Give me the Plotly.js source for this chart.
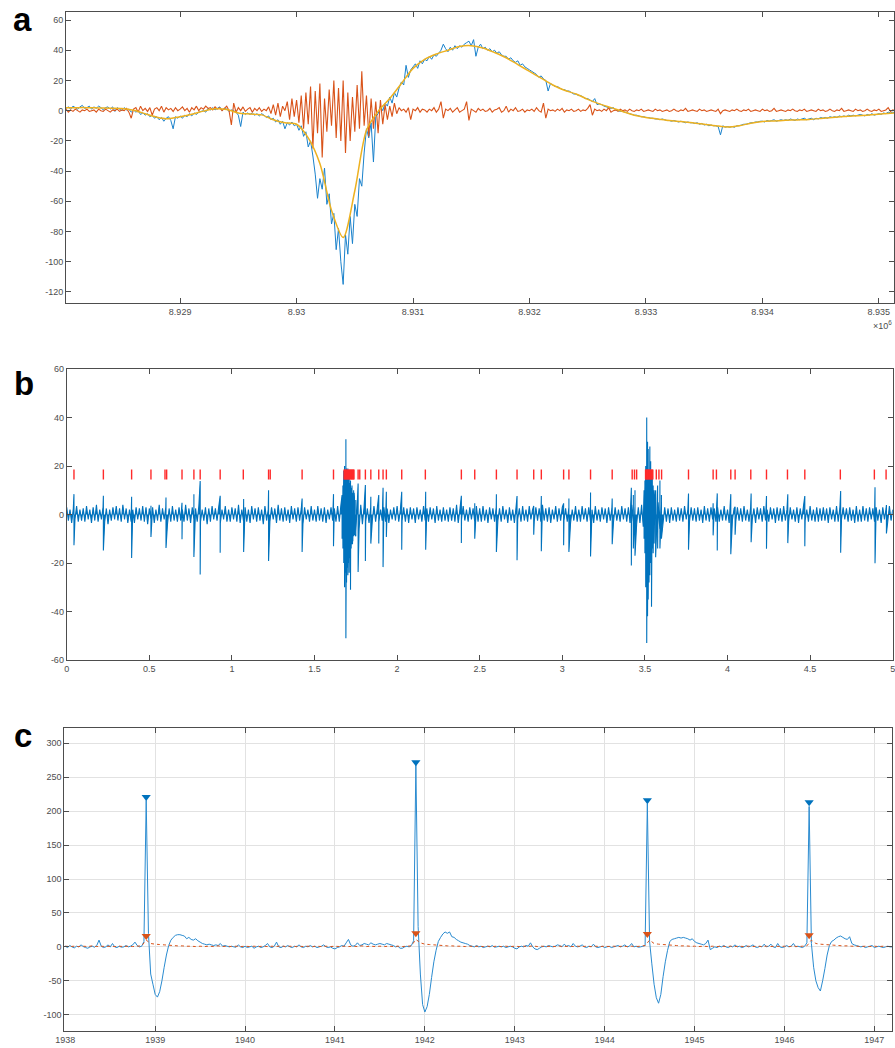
<!DOCTYPE html>
<html><head><meta charset="utf-8">
<script src="https://cdn.plot.ly/plotly-3.0.1.min.js"></script>
<style>html,body{margin:0;padding:0;background:#fff}#chart{width:895px;height:1048px}</style>
</head><body><div id="chart"></div>
<script>
// ---------- Panel a (x in units of 1e6) ----------
const aX0 = 8.928, aDx = 0.00002, aYDx = 0.0001;
const aBlue = [
3,1.5,2.5,1,3,2,1,2.5,3.5,1.5,
2,3,1,2.5,1.5,3,2,0.5,2,2.5,
1,2.5,-0.5,2,1,0,2,0.5,1,-1,
0.5,-1,0,-2.5,-1.5,-3,-2,-4,-3,-5,
-4,-6,-4.5,-7,-5,-4,-6.5,-12,-4,-5,
-3.5,-5,-3,-4,-2,-3.5,-1.5,-2.5,-1,-0.5,
0,-1,1.5,0.5,2,0.5,1.5,2.5,0,1.5,
1,-0.5,0.5,0,-1,-3,-10.5,-1,-2.5,-1.5,
-2.5,-1.5,-3,-2,-3.5,-2,-3,-4.5,-3.5,-6,
-5,-7.5,-6,-9,-7,-12,-8,-9.5,-7.5,-10,
-9,-13,-10,-17,-14,-24,-20,-30,-42,-58,
-45,-52,-38,-62,-55,-75,-68,-92,-78,-100,
-115,-82,-95,-70,-88,-62,-70,-45,-50,-28,
-12,-18,-8,-34,-4,-2,3,0,5,3,
9,5,12,9,15,19,17,30,22,27,
29,31,28,33,31,34,33,36,34,37,
36,38,40,44,41,39,42,40,43,41,
43,42,44,45,46,43,47,36,42,44,
41,42,40,41,39,40,38,39,37,36,
36,34,35,33,32,33,30,31,29,28,
27,26,25,24,22,23,21,20,13,18,
17,16,16,15,14,14,13,13,12,11,
11,10,10,9,8,8,7,6,8,4,
4.5,4,3,2.5,2,1.5,2,0.5,0,-0.5,
-0.5,-1,-1.5,-2,-2.5,-3,-3,-3.5,-4,-4,
-4.5,-4.5,-5,-5,-5.5,-5.5,-6,-5.5,-6,-6.5,
-6.5,-7,-6.5,-7,-7.5,-7,-7.5,-8,-7.5,-8,
-8,-8.5,-8,-9,-8.5,-9.5,-9,-10,-9.5,-10,
-10,-10.5,-16,-10,-11,-10.5,-11,-10.5,-11,-10,
-10,-9.5,-9,-9,-8.5,-8,-8,-7.5,-7.5,-7,
-7,-7.5,-6.5,-7,-6.5,-6,-7,-6.5,-6,-6.5,
-6,-6.5,-5.5,-6,-6.5,-5.5,-6,-5.5,-5,-6,
-5.5,-5,-6,-5,-5.5,-4.5,-5,-4.5,-5,-4,
-4.5,-4,-4.5,-3.5,-4,-3.5,-4,-3,-3.5,-3,
-3.5,-3,-2.5,-3,-3.5,-2.5,-3,-2,-3,-2.5,
-2,-2.5,-1.5,-2,-1,-1.5,-1,-1.5];
const aOrange = [
0,1,-1,0.5,-0.5,1,0,-1,0.5,0,
1,-0.5,0,0.5,-1,1,0,-0.5,1,0,
-1,0.5,0,1,-0.5,0.5,0,1.5,-1,-5,
1,2,-1,3,0,1.5,-0.5,2,-3,1,
2,0,3,-1,2,0.5,1.5,-0.5,2,0,
1,2.5,0,1.5,-1,2,0.5,3,0,2,
1,3,1.5,2,0.5,2.5,1,2,0,1.5,
3,0,-9.5,5,-1,2,0,2.5,-0.5,1,
2,-1,1.5,0,2,-0.5,1,0,2.5,-2,
4,-3,5,-4,3,0,6,-6,8,-4,
7,-8,10,-12,12,-9,16,-25,13,-15,
18,-31,8,-14,14,-10,20,-18,15,-20,
20,-28,12,-20,9,-14,17,-12,26,-10,
10,-17,8,-12,6,-15,7,-9,4,-6,
3,-4,5,-2,2,0,1,-1,2,-6,
1,0,2,-1,1,0.5,-1,1,0,2,
-1,1,6,-5,1,0,1.5,-1,0.5,2,
-1,0,1,6,-6.5,1,0,-1,1.5,0,
1,-0.5,0,1.5,-1,0.5,1,2,-1,0,
3,-1,1,0,2,-0.5,0,1,-1,0.5,
0,1,-0.5,2,0,-1,5,-5,1,0,
0.5,-0.5,1,0,1.5,-1,0.5,0,1,-0.5,
0,1,-0.5,0.5,0,1.5,4,-3,1,0,
0.5,-0.5,1,0,2,-1,0,0.5,-0.5,1,
0,0.5,-0.5,1,0,-0.5,0.5,0,1,-0.5,
0,0.5,0,-0.5,1,0,0.5,-0.5,0,0.5,
-0.5,0,1,0,-0.5,0.5,0,1.5,-0.5,0,
0.5,0,-0.5,1,0,0.5,-0.5,0,0.5,0,
-0.5,1,-2,0,0.5,0,-0.5,0.5,0,1,
0,-0.5,0.5,0,1,-0.5,0,0.5,0,-0.5,
1,0,0.5,-0.5,0,1.5,-0.5,0,0.5,0,
-0.5,0.5,0,1,0,-0.5,0.5,0,1,-0.5,
0,0.5,0,-0.5,1,0,0.5,-0.5,0,1,
0,-0.5,0.5,0,1.5,-0.5,0,0.5,0,-0.5,
1,0,0.5,-0.5,0,1,0,-0.5,0.5,0,
1,-0.5,0,0.5,2,-0.5,0.5,0];
const aYellow = [
2,2,2,1.8,1.6,1.4,0.3,-2,-4.3,-5.3,
-4,-2.4,-0.3,1.2,0.8,-1.5,-2.2,-2.8,-6,-8,
-9,-18,-35,-66,-84,-53,-13,-0.5,8,18,
28,34,37.5,40,42.5,43,41.5,38.5,35,30.5,
26,21.5,17,13.5,11,7.5,4.5,2,-0.5,-3,
-4.5,-5.5,-6.5,-7.2,-8,-9,-10,-10.8,-10,-8.3,
-7.2,-6.8,-6.4,-6.1,-5.8,-5.2,-4.5,-3.9,-3.3,-3,
-2.4,-1.7,-1.4];
const aXTicks = [8.929,8.930,8.931,8.932,8.933,8.934,8.935];
const aXLabels = ['8.929','8.93','8.931','8.932','8.933','8.934','8.935'];
const aYTicks = [-120,-100,-80,-60,-40,-20,0,20,40,60];

// ---------- Panel b ----------
const bDx = 0.01;
const bNoise = [
3,-2.5,2,-3.5,2.5,-2,3.5,-3,2,-2.5,
2.5,-3,3.5,-2,2,-3.5,3,-2.5,4,-3,
2,-2,3,-3,2.5,-4,2,-2.5,3,-2,
3.5,-2.5,2.5,-3,4,-2,2.5,-3.5,2,-3,
2,-3.5,3,-2,2.5,-2.5,3.5,-3,3,-4,
2.5,-2,3,-3.5,2,-2.5,4,-3,2.5,-2,
3,-4,2.5,-3,3.5,-2.5,2,-3,3,-2.5,
2,-3,4,-2.5,2.5,-3.5,3,-2,2.5,-3,
3.5,-3,2,-2.5,3,-4,2.5,-3,3.5,-2,
2.5,-2.5,3,-3.5,2,-2,3.5,-3,2,-3,
3,-2,2.5,-3,4,-3.5,2,-2.5,3,-3,
2,-3.5,3.5,-2,2.5,-3,3,-2.5,2,-4,
3.5,-2.5,2,-3,3,-2,2.5,-3.5,4,-2.5,
2.5,-3,3,-2.5,2,-3.5,3.5,-2,2.5,-3,
3,-2.5,2.5,-4,3,-2,2,-3,3.5,-2.5,
2,-3,3.5,-2.5,2.5,-3,3,-3.5,2,-2,
3,-2.5,2.5,-3,3.5,-3,4,-5,8,-10,
12,-14,10,-12,9,-9,6,-6,4,-4,
3,-3,2.5,-3.5,3,-2.5,3.5,-3,2.5,-3,
2,-2.5,3,-3,2.5,-3.5,2,-2,3,-2.5,
3.5,-3,2,-2.5,3,-3,2.5,-3.5,3,-2,
2.5,-3.5,3,-2,2,-3,3.5,-2.5,2.5,-3,
3,-2,2.5,-3.5,3.5,-2.5,2,-3,3,-2.5,
2,-3,3,-2.5,2.5,-3,4,-3.5,2,-2,
3.5,-2.5,2,-3,3,-2,2.5,-3,3.5,-3,
2.5,-3,3.5,-2.5,2,-3.5,3,-2,2.5,-3,
3,-2.5,2.5,-3,3.5,-2,2,-3.5,3,-2.5,
2,-3.5,3,-2,2.5,-3,3.5,-2.5,2,-3,
3.5,-2,2,-3,3,-2.5,2.5,-3,4,-2.5,
2.5,-3,3,-3.5,2,-2,3.5,-3,2.5,-2.5,
3,-2.5,2.5,-3,3,-3.5,2,-2.5,3.5,-3,
2,-3,3.5,-2,2.5,-3,3,-2.5,2,-3.5,
3.5,-2.5,2,-3,3,-2,2.5,-3.5,3,-2.5,
2.5,-3,3,-2.5,2,-3,3.5,-2,2.5,-3,
3,-3.5,4,-3,3.5,-4,3,-3.5,4,-5,
12,-16,10,-14,8,-11,6,-8,5,-6,
4,-3.5,3,-3,2.5,-3.5,3,-2.5,2,-3,
3,-2.5,2.5,-3,3.5,-2,2,-3,3,-2.5,
2.5,-3,3,-2.5,2,-3.5,3.5,-2.5,2.5,-3,
3,-2,2.5,-3,3,-3,2,-2.5,3.5,-2.5,
2,-3.5,3,-2,2.5,-3,3,-2.5,2.5,-3,
3.5,-2.5,2,-3,3,-2,2.5,-3.5,3,-2,
2.5,-3,3.5,-2.5,2,-3,3,-2,2.5,-3.5,
3,-2.5,2.5,-3,3.5,-2.5,2,-3,3,-2,
2,-3,3,-3.5,2.5,-2,3.5,-2.5,2,-3,
3.5,-2.5,2,-3,3,-3,2.5,-2.5,3,-2.5,
2.5,-3.5,3,-2,2,-3,3.5,-3,2.5,-2,
3,-2,2.5,-3,3,-2.5,2,-3.5,3.5,-3,
2,-3,3.5,-2.5,2.5,-3,3,-2,2.5,-3,
3,-2.5,2,-3.5,3,-2,2.5,-3,3.5,-2.5,
2];
const bSpikeT = [0.044,0.222,0.393,0.510,0.601,0.698,0.770,0.808,0.929,1.071,1.222,1.425,1.615,
1.667,1.672,1.677,1.682,1.687,1.690,1.694,1.698,1.702,1.706,1.710,1.714,1.718,1.722,1.727,1.732,1.737,1.742,1.750,
1.764,1.808,1.841,1.889,1.915,1.935,2.028,2.173,2.389,2.470,2.601,2.726,2.827,2.873,3.008,3.040,3.171,3.302,
3.418,3.430,3.440,3.495,3.500,3.505,3.511,3.516,3.520,3.525,3.530,3.535,3.540,3.545,3.550,3.556,3.565,3.577,3.591,3.600,
3.764,3.913,3.938,4.020,4.046,4.143,4.236,4.365,4.468,4.685,4.893,4.962];
const bSpikeHi = [8.4,7.7,7.3,3.6,7,4.8,8.4,13.8,7.7,6.4,10,6.6,8.4,
8,12,18,20,16,31,19,17,19,15,17,13,14,11,12,9,10,7,6,
12.8,12.2,7.3,8,11,9.4,9.4,9.4,7.7,4.6,8.3,7.6,3.5,7.6,4.6,6.6,9.1,6.6,
11,8,10,10,14,20,40,30,27,18,28,22,15,16,12,10,10,12,14,8,
8.7,4.6,8.7,8.4,3.2,8.7,7.6,8.3,7.6,9.7,11.2,3.9];
const bSpikeLo = [-12.7,-14.8,-17.9,-9.3,-13.8,-10.2,-17.5,-24.7,-15.8,-15.5,-19.2,-15.5,-13.1,
-10,-14,-20,-30,-24,-51,-28,-22,-25,-20,-24,-18,-31,-14,-12,-11,-9,-8,-7,
-23.7,-19.2,-12,-12,-21.7,-9.3,-14.5,-14.5,-11.8,-10,-15.5,-18.9,-8.3,-15.2,-12.7,-15.5,-17.3,-12.3,
-21,-14,-17,-10,-16,-30,-53,-42,-35,-28,-25,-20,-38,-14,-16,-12,-17.6,-14,-14,-10,
-14.5,-8.6,-14.8,-16.4,-8.3,-11.4,-14.1,-11.8,-13.1,-15.8,-20.1,-7.8];
const bMarkT = [0.044,0.222,0.393,0.510,0.595,0.605,0.698,0.770,0.808,0.929,1.069,1.222,1.232,1.425,1.615,
1.679,1.683,1.687,1.691,1.695,1.699,1.703,1.707,1.711,1.715,1.719,1.723,1.727,1.731,1.735,1.739,
1.764,1.774,1.808,1.841,1.889,1.915,1.935,2.028,2.171,
2.389,2.470,2.601,2.726,2.827,2.873,3.008,3.040,3.171,3.302,3.423,3.437,3.450,
3.504,3.508,3.512,3.516,3.520,3.524,3.528,3.532,3.536,3.540,3.544,3.548,
3.569,3.585,3.601,3.764,3.913,3.933,4.020,4.046,4.141,4.236,4.363,4.468,4.683,4.889,4.960];
const bMarkLevel = 16.5;
const bXTicks = [0,0.5,1,1.5,2,2.5,3,3.5,4,4.5,5];
const bYTicks = [-60,-40,-20,0,20,40,60];

// ---------- Panel c ----------
const cX0 = 1938, cDx = 0.025, cDxO = 0.05;
const cBlue = [
1,-1,2,0,-1.5,1,0,3,0.5,-1,
-2,0,1,-0.5,2,10,1,-1,0,3,
0,5,0,-1,1,-0.5,0,2,0,1,
3,7,2,0,1,8,216,20,-40,-55,
-70,-74,-66,-50,-30,-12,2,10,14,17,
18,18,17,16,12,14,11,10,12,9,
7,5,4,3,4,3,2,3,2,5,
1,2,1,0,1,0,-0.5,3,0,-1,
1,-1,0,1,-2,0,1,-1,0,2,
5,0,-1,1,7,0,-1,1,0,2,
0,-1,1,0,3,0,-1,1,0,2,
0,1,-1,0,1,3,0,-1,0,-2,
-3,-1,0,2,1,6,11,3,1,2,
6,2,3,5,4,3,6,4,3,4,
5,4,3,5,4,3,2,0,1,-2,
-2,0,1,0,2,9,268,30,-40,-85,
-96,-88,-70,-45,-22,-5,8,14,19,22,
20,22,15,14,11,9,7,6,5,4,
2,1,0,2,0,1,-1,0,1,0,
2,-0.5,0,1,0,1,-1,0,1,0,
-2,-3,0,1,0,2,1,6,0,-3,
-4,-2,0,1,0,2,1,0,1,3,
2,0,4,1,2,0,5,1,0,1,
3,0,-1,1,0,4,0,-1,0,1,
-1,0,1,-1,0,1,2,0,1,3,
0,1,5,0,1,-0.5,0,1,2,211,
8,-25,-55,-75,-83,-70,-44,-22,-5,8,
11,12,13,14,13,14,13,12,10,12,
8,6,5,4,3,5,10,-4,-2,0,
-1,1,0,2,0,-1,1,0,3,0,
1,-1,0,2,0,1,3,0,-1,1,
0,4,0,1,4,0,-1,5,0,-1,
0,2,0,1,5,0,1,0,-1,1,
6,207,5,-30,-50,-60,-65,-50,-32,-12,
2,8,10,13,15,16,14,12,11,15,
5,3,2,1,0,1,-1,0,1,2,
-1,0,1,0,-1,0,1,0,0];
const cOrange = [
1,0.5,1,0.5,1,0.5,1.5,0.5,1,0.5,
1,0.5,1,0.5,1,0.5,1,1.5,10,5,
4,3.5,3,2.5,2,1.5,1.5,1,1,0.5,
1,0.5,1,0.5,1.5,0.5,1,0.5,1,0.5,
1,0.5,1,0.5,1,0.5,1,0.5,1.5,0.5,
1,0.5,1,0.5,1,0.5,1,0.5,1,0.5,
1,0.5,1,0.5,1,0.5,1.5,0.5,1,0.5,
1,0.5,1,0.5,1,0.5,1,1.5,11,6,
4,3.5,3,2.5,2,1.5,1.5,1,1,0.5,
1,0.5,1,0.5,1,0.5,1,0.5,1,0.5,
1,0.5,1,0.5,1.5,0.5,1,0.5,1,0.5,
1,0.5,1,0.5,1,0.5,1,0.5,1,0.5,
1,0.5,1,0.5,1,0.5,1,0.5,1,2,
10,5,4,3.5,3,2.5,2,1.5,1.5,1,
1,0.5,1,0.5,1,0.5,1,0.5,1,0.5,
1,0.5,1,0.5,1,0.5,1,0.5,1,0.5,
1,0.5,1,0.5,1,1.5,10,5,4,3.5,
3,2.5,2,1.5,1.5,1,1,0.5,1,0.5,
1,0.5,1,0.5,1];
const cPeakT = [1938.9, 1941.9, 1944.475, 1946.275];
const cPeakBlue = [221, 272, 216, 213];
const cPeakOrange = [16, 20, 19, 17];
const cXTicks = [1938,1939,1940,1941,1942,1943,1944,1945,1946,1947];
const cYTicks = [-100,-50,0,50,100,150,200,250,300];

// ---------- build ----------
const BLUE = '#0072BD', ORANGE = '#D95319', YELLOW = '#EDB120';
const aX = aBlue.map((_, i) => aX0 + i * aDx);
const aXo = aOrange.map((_, i) => aX0 + i * aDx);
const aXy = aYellow.map((_, i) => aX0 + i * aYDx);

const pts = bNoise.map((v, i) => [i * bDx, v]);
bSpikeT.forEach((t, k) => { pts.push([t, bSpikeHi[k]]); pts.push([t + 1e-7, bSpikeLo[k]]); });
pts.sort((p, q) => p[0] - q[0]);

const cX = cBlue.map((_, i) => cX0 + i * cDx);
const cXo = cOrange.map((_, i) => cX0 + i * cDxO);

const traces = [
  {x: aX, y: aBlue, xaxis: 'x', yaxis: 'y', mode: 'lines', line: {color: '#1a82cc', width: 1, simplify: false}},
  {x: aXo, y: aOrange, xaxis: 'x', yaxis: 'y', mode: 'lines', line: {color: ORANGE, width: 1.1, simplify: false}},
  {x: aXy, y: aYellow, xaxis: 'x', yaxis: 'y', mode: 'lines', line: {color: YELLOW, width: 1.5, shape: 'spline', smoothing: 0.8}},
  {x: pts.map(p => p[0]), y: pts.map(p => p[1]), xaxis: 'x2', yaxis: 'y2', mode: 'lines',
   fill: 'tozeroy', fillcolor: BLUE, line: {color: BLUE, width: 1.1, simplify: false}},
  {x: bMarkT, y: bMarkT.map(() => bMarkLevel), xaxis: 'x2', yaxis: 'y2', mode: 'markers',
   marker: {symbol: 'line-ns', size: 7, color: '#ff2a2a', line: {color: '#ff2a2a', width: 1.4}}},
  {x: cX, y: cBlue, xaxis: 'x3', yaxis: 'y3', mode: 'lines', line: {color: '#2a8bd0', width: 1, simplify: false}},
  {x: cXo, y: cOrange, xaxis: 'x3', yaxis: 'y3', mode: 'lines', line: {color: ORANGE, width: 1, dash: 'dot', simplify: false}},
  {x: cPeakT, y: cPeakBlue, xaxis: 'x3', yaxis: 'y3', mode: 'markers', marker: {symbol: 'triangle-down', size: 8, color: BLUE}},
  {x: cPeakT, y: cPeakOrange, xaxis: 'x3', yaxis: 'y3', mode: 'markers', marker: {symbol: 'triangle-down', size: 8, color: ORANGE}}
];

function ax(extra) {
  return Object.assign({
    showline: true, linecolor: '#4d4d4d', linewidth: 1, mirror: 'ticks',
    ticks: 'inside', ticklen: 5, tickwidth: 1, tickcolor: '#4d4d4d',
    tickfont: {family: 'Liberation Sans, Arial, sans-serif', size: 9, color: '#4d4d4d'},
    zeroline: false, showgrid: false, fixedrange: true, tickmode: 'array',
    ticklabeloverflow: 'allow'
  }, extra);
}
const H = 1048, W = 895;
const LET = {family: 'Liberation Sans, Arial, sans-serif', size: 33, color: '#000'};
const layout = {
  width: W, height: H, margin: {l: 0, r: 0, t: 0, b: 0},
  paper_bgcolor: '#fff', plot_bgcolor: '#fff', showlegend: false,
  xaxis: ax({domain: [66/W, 894/W], anchor: 'y', range: [8.92802, 8.93513], tickvals: aXTicks, ticktext: aXLabels}),
  yaxis: ax({domain: [(H-303)/H, (H-12)/H], anchor: 'x', range: [-127.3, 65.3], tickvals: aYTicks, ticktext: aYTicks.map(String)}),
  xaxis2: ax({domain: [66.7/W, 892.7/W], anchor: 'y2', range: [0, 5], tickvals: bXTicks, ticktext: bXTicks.map(String)}),
  yaxis2: ax({domain: [(H-660)/H, (H-369)/H], anchor: 'x2', range: [-60, 60], tickvals: bYTicks, ticktext: bYTicks.map(String)}),
  xaxis3: ax({domain: [64.3/W, 892.3/W], anchor: 'y3', range: [1937.989, 1947.2], tickvals: cXTicks, ticktext: cXTicks.map(String), showgrid: true, gridcolor: '#e2e2e2'}),
  yaxis3: ax({domain: [(H-1030.7)/H, (H-727.7)/H], anchor: 'x3', range: [-123.5, 323], tickvals: cYTicks, ticktext: cYTicks.map(String), showgrid: true, gridcolor: '#e2e2e2'}),
  annotations: [
    {text: '<b>a</b>', xref: 'paper', yref: 'paper', x: 12/W, y: 1, xanchor: 'left', yanchor: 'top', borderpad: 0, showarrow: false, font: LET},
    {text: '<b>b</b>', xref: 'paper', yref: 'paper', x: 12/W, y: 1 - 383/H, xanchor: 'left', yanchor: 'middle', showarrow: false, font: LET},
    {text: '<b>c</b>', xref: 'paper', yref: 'paper', x: 12/W, y: 1 - 735/H, xanchor: 'left', yanchor: 'middle', showarrow: false, font: LET},
    {text: '×10<sup>6</sup>', xref: 'paper', yref: 'paper', x: 894/W, y: 1 - 325/H, xanchor: 'right', yanchor: 'middle', showarrow: false, font: {family: 'Liberation Sans, Arial, sans-serif', size: 9, color: '#4d4d4d'}}
  ]
};
Plotly.newPlot('chart', traces, layout, {staticPlot: true, displayModeBar: false});
</script>
</body></html>
